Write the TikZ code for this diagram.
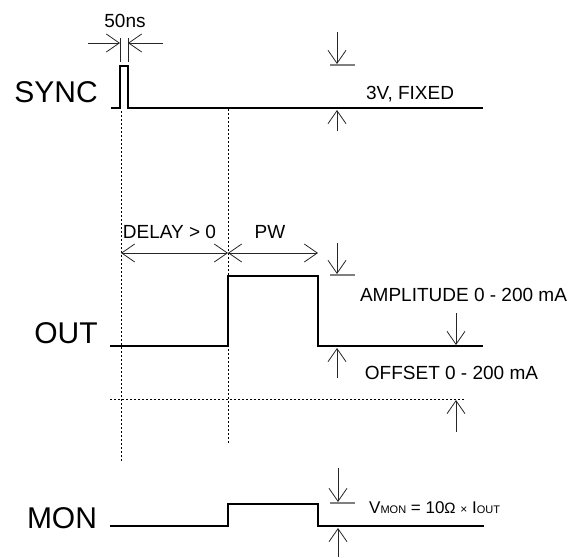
\documentclass[tikz,border=0pt]{standalone}
\usepackage{fontspec}
\setmainfont{Liberation Sans}
\usetikzlibrary{arrows.meta}
\newcommand{\biglabel}{\fontsize{30}{30}\selectfont}
\newcommand{\smalllabel}{\fontsize{19}{19}\selectfont}
\newcommand{\subfont}{\fontsize{11}{11}\selectfont}
\begin{document}
\begin{tikzpicture}[x=1pt,y=-1pt]
\tikzset{
  signal/.style={line width=2.6pt},
  dimline/.style={line width=0.8pt, draw=black!85},
  dimarrow/.style={dimline, -{Straight Barb[length=13pt,width=18pt]}},
  dimboth/.style={dimline, {Straight Barb[length=13pt,width=18pt]}-{Straight Barb[length=13pt,width=18pt]}},
  bar/.style={line width=1.4pt, draw=black!50},
  timing/.style={line width=1pt, dash pattern=on 1.5pt off 2.5pt},
  sig label/.style={font=\biglabel, anchor=base, inner sep=0pt},
  note/.style={font=\smalllabel, anchor=base, inner sep=0pt}
}
\useasboundingbox (0,0) rectangle (570,557);
% Draw the signals
\draw[signal] (111,108) -- (120,108) -- (120,66) -- (128,66) -- (128,108) -- (483,108);
\draw[signal] (110,346) -- (228,346) -- (228,276) -- (318,276) -- (318,346) -- (483,346);
\draw[signal] (110,526) -- (228,526) -- (228,504) -- (318,504) -- (318,526) -- (484,526);
\node[sig label] (sync) at (56,102) {SYNC};
\node[sig label] (out) at (66,343) {OUT};
\node[sig label] (mon) at (62,528) {MON};
% the dotted time marks
\draw[timing] (121,111) -- (121,463);
\draw[timing] (228,109) -- (228,445);
\draw[timing] (110,399) -- (465,399);
% sync pulse width
\foreach \x in {120,128} {
\draw[dimline] (\x,38) -- (\x,62);
}
\draw[dimarrow] (88,43) -- (120,43);
\draw[dimarrow] (163,43) -- (128,43);
\node[note] (width) at (125,27) {50ns};
% sync level
\draw[dimarrow] (337,32) -- (337,64);
\draw[bar] (330,65) -- (355,65);
\draw[dimarrow] (337,131) -- (337,110);
\node[note] (fixed) at (410,99) {3V, FIXED};
% delay and pulse width
\draw[dimboth] (121,253) -- (228,253);
\draw[dimboth] (228,253) -- (318,253);
\node[note] (delay) at (169.5,238) {DELAY > 0};
\node[note] (pw) at (270,238) {PW};
% amplitude
\draw[dimarrow] (337,243) -- (337,274);
\draw[bar] (330,275) -- (355,275);
\draw[dimarrow] (337,378) -- (337,348);
\node[note] (ampl) at (463.5,301) {AMPLITUDE 0 - 200 mA};
% offset
\draw[dimarrow] (456,313) -- (456,345);
\draw[dimarrow] (456,432) -- (456,400);
\node[note] (offset) at (451.5,379) {OFFSET 0 - 200 mA};
% monitor
\draw[dimarrow] (338,468) -- (338,502);
\draw[bar] (330,503) -- (355,503);
\draw[dimarrow] (338,557) -- (338,528);
\node[anchor=base west, inner sep=0pt] (vmon) at (369,513)
  {\fontsize{17}{17}\selectfont V\raisebox{-0.5pt}{\subfont MON} = 10{\fontsize{15}{15}\selectfont Ω} {\fontsize{12}{12}\selectfont ×} I\raisebox{-0.5pt}{\subfont OUT}};
\end{tikzpicture}
\end{document}
